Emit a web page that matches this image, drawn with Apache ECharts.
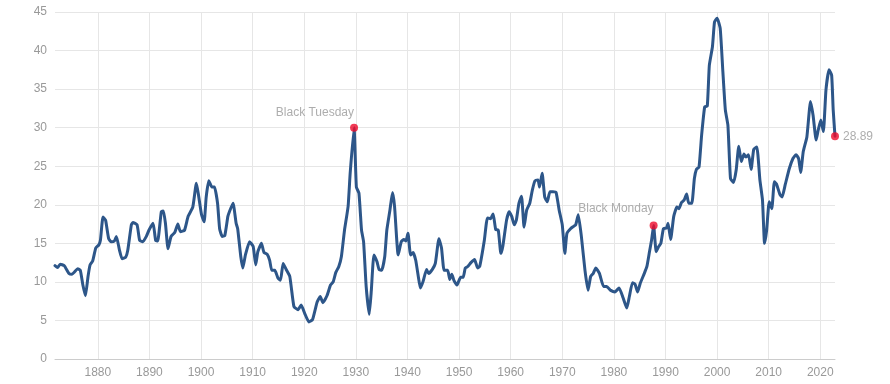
<!DOCTYPE html>
<html>
<head>
<meta charset="utf-8">
<script src="https://cdn.jsdelivr.net/npm/echarts@6/dist/echarts.min.js"></script>
<style>html,body{margin:0;padding:0;background:#fff}#c{width:890px;height:384px}</style>
</head>
<body>
<div id="c"></div>
<script>
const years = [1871.7,1872.2,1872.7,1873.5,1874.4,1875.0,1875.5,1876.1,1876.6,1877.1,1877.6,1878.1,1878.5,1879.0,1879.6,1880.2,1880.5,1881.0,1881.5,1882.1,1882.6,1883.2,1883.6,1884.2,1884.7,1885.4,1885.8,1886.5,1886.8,1887.6,1888.1,1888.7,1889.4,1889.9,1890.7,1891.2,1891.6,1892.3,1892.7,1893.1,1893.6,1894.2,1894.9,1895.5,1896.0,1896.8,1897.5,1898.4,1899.1,1899.5,1900.1,1900.6,1901.0,1901.5,1902.1,1902.6,1903.2,1903.6,1904.1,1904.6,1905.2,1905.5,1906.2,1906.8,1907.1,1907.7,1908.1,1908.6,1909.4,1910.1,1910.6,1911.0,1911.7,1912.2,1912.8,1913.3,1913.7,1914.3,1914.9,1915.4,1915.9,1916.5,1917.2,1918.0,1918.8,1919.4,1920.1,1920.9,1921.6,1922.5,1923.1,1923.6,1924.4,1925.1,1925.6,1926.1,1926.7,1927.2,1927.8,1928.5,1928.9,1929.65,1930.1,1930.6,1931.1,1931.5,1932.0,1932.6,1933.0,1933.5,1934.1,1934.5,1935.0,1935.6,1936.0,1936.6,1937.1,1937.5,1938.2,1938.8,1939.3,1939.7,1940.1,1940.6,1941.1,1941.6,1942.1,1942.5,1943.0,1943.7,1944.1,1944.8,1945.4,1946.1,1946.6,1947.1,1947.8,1948.2,1948.6,1949.0,1949.6,1950.3,1950.8,1951.2,1951.7,1952.3,1953.0,1953.6,1954.0,1954.9,1955.5,1956.1,1956.6,1957.1,1957.6,1958.1,1958.5,1959.2,1959.7,1960.2,1960.7,1961.1,1961.6,1962.1,1962.6,1963.1,1963.7,1964.2,1964.7,1965.3,1965.6,1966.1,1966.6,1967.1,1967.6,1968.2,1968.8,1969.4,1970.0,1970.5,1970.9,1971.6,1972.2,1972.6,1973.1,1973.7,1974.4,1975.0,1975.5,1976.0,1976.5,1977.2,1978.0,1978.6,1979.4,1980.2,1981.0,1981.8,1982.5,1983.0,1983.6,1984.1,1984.6,1985.1,1985.9,1986.4,1986.9,1987.3,1987.7,1988.2,1988.6,1989.1,1989.6,1990.2,1990.5,1991.0,1991.6,1992.2,1992.6,1993.1,1993.6,1994.1,1994.5,1995.1,1995.6,1996.0,1996.5,1997.0,1997.6,1998.1,1998.5,1999.1,1999.5,2000.0,2000.6,2001.1,2001.6,2002.1,2002.6,2003.2,2003.7,2004.2,2004.7,2005.2,2005.6,2006.1,2006.6,2007.1,2007.7,2008.3,2008.8,2009.2,2009.6,2010.1,2010.6,2011.1,2011.5,2012.2,2012.6,2013.2,2014.0,2014.7,2015.3,2015.8,2016.2,2016.7,2017.4,2018.1,2018.6,2019.2,2019.6,2020.1,2020.6,2021.1,2021.7,2022.2,2022.5,2022.85];
const cape = [12.1,11.85,12.3,12.1,11.1,11.0,11.3,11.7,11.5,9.6,8.2,10.7,12.2,12.7,14.4,14.8,15.4,18.4,18.0,15.6,15.2,15.3,15.9,14.1,13.0,13.2,14.1,17.4,17.7,17.4,15.4,15.2,15.9,16.7,17.6,15.4,15.3,19.1,19.2,17.6,14.3,15.9,16.4,17.5,16.5,16.7,18.5,19.7,22.8,21.3,18.7,17.8,21.0,23.1,22.3,22.3,20.2,16.9,15.9,16.0,18.5,19.1,20.2,17.6,16.9,13.3,11.8,13.5,15.2,14.6,12.2,13.9,15.0,13.8,13.6,12.8,11.5,11.5,10.5,10.2,12.4,11.6,10.7,6.8,6.4,7.0,5.9,4.8,5.1,7.4,8.1,7.3,8.2,9.6,10.0,11.2,12.0,13.3,16.7,19.8,24.1,30.0,22.3,21.5,16.7,15.2,9.4,5.8,8.9,13.5,12.6,11.6,11.5,13.3,16.7,19.3,21.6,19.8,13.5,15.2,15.5,15.3,16.3,13.5,13.8,12.8,10.7,9.2,10.0,11.6,11.1,11.6,12.4,15.6,14.4,11.5,11.5,10.3,11.0,10.2,9.6,10.6,10.6,11.8,12.0,12.5,12.9,11.8,12.0,15.4,18.3,18.2,18.8,16.8,16.7,13.7,14.7,18.0,19.1,18.5,17.4,18.0,20.2,21.1,17.1,19.3,20.2,21.9,23.1,23.2,22.3,24.1,21.0,20.4,21.7,21.7,21.6,19.3,17.4,13.7,16.3,16.9,17.2,17.4,18.7,15.9,11.5,8.9,10.7,11.1,11.8,11.1,9.4,9.4,8.9,8.7,9.2,7.9,6.6,8.1,9.9,9.7,8.7,9.8,11.1,12.0,13.9,15.4,17.3,13.9,14.5,15.0,16.9,17.0,17.6,15.5,18.5,19.7,19.5,20.3,20.6,21.4,20.2,20.2,23.4,24.6,24.9,29.0,32.7,32.8,38.1,40.5,43.7,44.2,42.9,37.5,32.3,30.3,23.4,22.9,24.5,27.6,25.6,26.6,26.2,26.5,24.6,27.2,27.5,23.2,20.6,15.0,16.7,20.4,19.5,23.0,22.7,21.3,21.0,22.6,24.7,26.0,26.5,26.0,24.2,26.9,28.8,33.4,31.6,28.4,29.7,31.0,29.5,34.9,37.5,36.8,32.3,28.89];
const eventNames = ['Black Tuesday', 'Black Monday', '28.89'];
const eventYears = [1929.65, 1987.7, 2022.85];
const eventValues = [30.0, 17.3, 28.89];
const xTickLabels = [1880,1890,1900,1910,1920,1930,1940,1950,1960,1970,1980,1990,2000,2010,2020];

const FONT = 'Liberation Sans, Arial, sans-serif';
const chart = echarts.init(document.getElementById('c'), null, {renderer: 'canvas'});
const lineData = years.map((y, i) => [y, cape[i]]);
const eventLabelCfg = [
  {position: [4, -11], align: 'right', verticalAlign: 'middle'},
  {position: [4, -13], align: 'right', verticalAlign: 'middle'},
  {position: 'right', distance: 4, align: 'left', verticalAlign: 'middle'}
];
const eventData = eventYears.map((y, i) => ({
  value: [y, eventValues[i]],
  name: eventNames[i],
  label: Object.assign({show: true, formatter: eventNames[i], color: '#999', fontSize: 12, fontFamily: FONT}, eventLabelCfg[i])
}));

chart.setOption({
  animation: false,
  backgroundColor: '#fff',
  grid: {left: 55, right: 55, top: 12, bottom: 25, containLabel: false},
  xAxis: {
    type: 'value',
    min: years[0],
    max: years[years.length - 1],
    axisLine: {show: true, lineStyle: {color: '#ccc', width: 1}},
    axisTick: {show: false, customValues: xTickLabels},
    axisLabel: {customValues: xTickLabels, color: '#999', fontSize: 12, fontFamily: FONT, margin: 8, formatter: v => String(v)},
    splitLine: {show: true, lineStyle: {color: '#e6e6e6', width: 1}}
  },
  yAxis: {
    type: 'value',
    min: 0, max: 45, interval: 5,
    axisLine: {show: false},
    axisTick: {show: false},
    axisLabel: {color: '#999', fontSize: 12, fontFamily: FONT, margin: 8},
    splitLine: {show: true, lineStyle: {color: '#e6e6e6', width: 1}}
  },
  series: [
    {
      type: 'line',
      data: lineData,
      showSymbol: false,
      smooth: 0.15,
      lineStyle: {color: '#2d5689', width: 3, join: 'round', cap: 'round'},
      itemStyle: {color: '#2d5689'},
      z: 2
    },
    {
      type: 'scatter',
      data: eventData,
      symbolSize: 8,
      itemStyle: {color: '#ee0a2a'},
      z: 3
    }
  ]
});
</script>
</body>
</html>
